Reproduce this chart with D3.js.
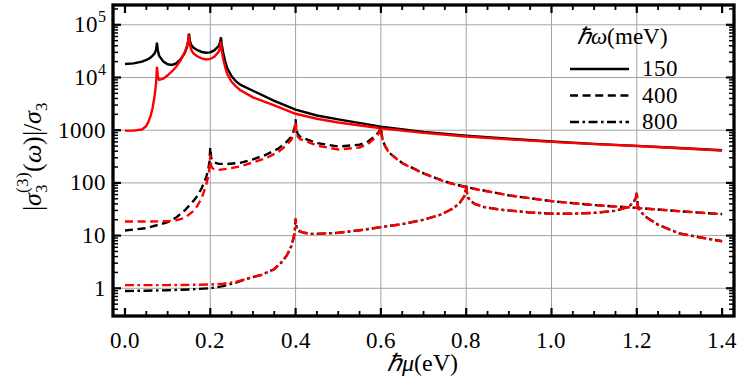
<!DOCTYPE html>
<html>
<head>
<meta charset="utf-8">
<script src="https://cdn.jsdelivr.net/npm/d3@7"></script>
<style>
@font-face { font-family: "PlotSerif"; src: local("Liberation Serif"), local("LiberationSerif-Regular"), local("Tinos"); font-style: normal; }
@font-face { font-family: "PlotSerif"; src: local("Liberation Serif Italic"), local("LiberationSerif-Italic"), local("Tinos Italic"); font-style: italic; }
</style>
</head>
<body style="margin:0">
<script>
// hbar*omega = 150 meV
var mu150 = [0, 0.02, 0.04, 0.05, 0.055, 0.06, 0.065, 0.07, 0.073, 0.075, 0.077, 0.08, 0.09, 0.1, 0.11, 0.12, 0.13, 0.14, 0.145, 0.148, 0.15, 0.152, 0.155, 0.16, 0.17, 0.18, 0.19, 0.2, 0.21, 0.22, 0.223, 0.225, 0.227, 0.23, 0.235, 0.24, 0.25, 0.26, 0.27, 0.3, 0.35, 0.4, 0.45, 0.5, 0.6, 0.7, 0.8, 0.9, 1.0, 1.1, 1.2, 1.3, 1.4];
var black150 = [18000, 18500, 20000, 21500, 22500, 24000, 26000, 29000, 34000, 46000, 33000, 26000, 20000, 17800, 17300, 18500, 22000, 29000, 37000, 48000, 68000, 50000, 42000, 37000, 33000, 30500, 29500, 30000, 33000, 40000, 47000, 58000, 42000, 30000, 20000, 15000, 10500, 8500, 7300, 5600, 3600, 2450, 1900, 1600, 1170, 930, 790, 690, 610, 550, 505, 460, 415];
var red150 = [980, 980, 1030, 1200, 1450, 1850, 2700, 4800, 8000, 16000, 10500, 9000, 9500, 11000, 13000, 16000, 21000, 30000, 39000, 49000, 64000, 42000, 34000, 29000, 25000, 23000, 22000, 22500, 25000, 31000, 37000, 48000, 32000, 23000, 15500, 11500, 8300, 6800, 5800, 4200, 2950, 2050, 1650, 1400, 1090, 890, 760, 670, 600, 545, 500, 455, 410];

// hbar*omega = 400 meV
var mu400 = [0, 0.05, 0.1, 0.12, 0.14, 0.16, 0.17, 0.18, 0.19, 0.195, 0.198, 0.2, 0.202, 0.205, 0.21, 0.22, 0.24, 0.27, 0.3, 0.33, 0.36, 0.38, 0.39, 0.395, 0.398, 0.4, 0.402, 0.405, 0.41, 0.42, 0.45, 0.5, 0.55, 0.57, 0.585, 0.595, 0.598, 0.6, 0.602, 0.605, 0.61, 0.62, 0.65, 0.7, 0.75, 0.8, 0.9, 1.0, 1.1, 1.2, 1.3, 1.4];
var black400 = [12.5, 13.8, 18, 22, 30, 45, 57, 80, 126, 175, 250, 470, 300, 265, 245, 230, 228, 240, 280, 340, 450, 610, 760, 950, 1150, 1600, 1000, 850, 760, 700, 570, 490, 530, 610, 760, 920, 1020, 1170, 800, 620, 500, 370, 238, 152, 106, 83, 58, 45, 38, 33.5, 29, 25.5];
var red400 = [18.5, 18.5, 18.7, 19.5, 21.6, 29, 37, 52, 90, 130, 190, 340, 210, 190, 180, 177, 185, 205, 245, 293, 390, 530, 660, 830, 1020, 1470, 900, 760, 680, 640, 510, 430, 470, 550, 700, 860, 960, 1100, 780, 610, 490, 365, 236, 151, 105, 82, 58, 45, 38, 33.5, 29, 25.5];

// hbar*omega = 800 meV
var mu800 = [0, 0.05, 0.1, 0.15, 0.2, 0.23, 0.26, 0.29, 0.32, 0.35, 0.37, 0.38, 0.39, 0.395, 0.398, 0.4, 0.402, 0.405, 0.41, 0.42, 0.435, 0.45, 0.5, 0.55, 0.6, 0.65, 0.7, 0.74, 0.77, 0.785, 0.795, 0.798, 0.8, 0.802, 0.805, 0.81, 0.82, 0.84, 0.88, 0.95, 1.0, 1.05, 1.1, 1.15, 1.18, 1.19, 1.195, 1.198, 1.2, 1.202, 1.205, 1.21, 1.22, 1.25, 1.3, 1.35, 1.4];
var black800 = [0.89, 0.9, 0.92, 0.95, 1.0, 1.1, 1.28, 1.55, 1.8, 2.3, 3.3, 4.3, 6.3, 8.8, 11.5, 21, 15, 13, 12, 11.3, 10.8, 10.8, 11.3, 12.6, 14.5, 16.5, 20, 25, 33, 42, 55, 65, 89, 65, 52, 46, 40, 35, 31, 27.5, 26, 26, 27, 29.5, 35, 41, 47, 53, 66, 38, 32, 28, 23, 16, 11, 9.2, 7.8];
var red800 = [1.15, 1.15, 1.15, 1.16, 1.18, 1.22, 1.32, 1.55, 1.8, 2.3, 3.3, 4.3, 6.3, 8.8, 11.5, 21, 15, 13, 12, 11.3, 10.8, 10.8, 11.3, 12.6, 14.5, 16.5, 20, 25, 33, 42, 55, 65, 89, 65, 52, 46, 40, 35, 31, 27.5, 26, 26, 27, 29.5, 35, 41, 47, 53, 66, 38, 32, 28, 23, 16, 11, 9.2, 7.8];

var xTickLabels = ["0.0", "0.2", "0.4", "0.6", "0.8", "1.0", "1.2", "1.4"];
var yTickValues = [1, 10, 100, 1000, 1e4, 1e5];
var legendLabels = ["150", "400", "800"];

var fontStack = "PlotSerif, 'Liberation Serif', Tinos, 'Times New Roman'";

var width = 750;
var height = 385;
var svg = d3.select("body")
  .append("svg")
  .attr("width", width)
  .attr("height", height);

var plotLeft = 113, plotRight = 734, plotTop = 5, plotBottom = 316;

var x = d3.scaleLinear().domain([-0.0281, 1.4279]).range([plotLeft, plotRight]);
var y = d3.scaleLog().domain([0.298, 2.375e5]).range([plotBottom, plotTop]);

var gray = "#a3a3a3";

// helper: text in the serif face
function label(xp, yp, size) {
  return svg.append("text")
    .attr("x", xp).attr("y", yp)
    .style("font-family", fontStack)
    .style("font-size", size + "px");
}

// grid lines
svg.selectAll(".vgrid")
  .data([0.2, 0.4, 0.6, 0.8, 1.0, 1.2])
  .enter().append("line")
  .attr("x1", d => x(d)).attr("x2", d => x(d))
  .attr("y1", plotTop).attr("y2", plotBottom)
  .style("stroke", gray).style("stroke-width", 1);

svg.selectAll(".hgrid")
  .data(yTickValues)
  .enter().append("line")
  .attr("x1", plotLeft).attr("x2", plotRight)
  .attr("y1", d => y(d)).attr("y2", d => y(d))
  .style("stroke", gray).style("stroke-width", 1);

// legend (drawn under the curves, no background)
var legendStyles = ["none", "8,4.6", "9,3.5,2.5,3.5"];
label(622, 44, 23)
  .attr("text-anchor", "middle")
  .html('<tspan font-style="italic">ℏω</tspan>(meV)');

legendLabels.forEach(function (lab, i) {
  var ly = [69, 95.5, 122][i];
  svg.append("line")
    .attr("x1", 570).attr("x2", 629)
    .attr("y1", ly).attr("y2", ly)
    .style("stroke", "#000").style("stroke-width", 2.4)
    .style("stroke-dasharray", legendStyles[i]);
  label(642, ly + 7, 23).text(lab);
});

// curves
svg.append("clipPath").attr("id", "clip")
  .append("rect")
  .attr("x", plotLeft).attr("y", plotTop)
  .attr("width", plotRight - plotLeft).attr("height", plotBottom - plotTop);

var line = d3.line()
  .x(d => x(d[0]))
  .y(d => y(d[1]));

var series = [
  [mu150, black150, "#000", "none"],
  [mu150, red150, "#ff0000", "none"],
  [mu400, black400, "#000", "8,4.6"],
  [mu400, red400, "#ff0000", "8,4.6"],
  [mu800, black800, "#000", "9,3.5,2.5,3.5"],
  [mu800, red800, "#ff0000", "9,3.5,2.5,3.5"]
];

series.forEach(function (s) {
  svg.append("path")
    .attr("clip-path", "url(#clip)")
    .attr("d", line(d3.zip(s[0], s[1])))
    .style("fill", "none")
    .style("stroke", s[2])
    .style("stroke-width", 2.4)
    .style("stroke-dasharray", s[3]);
});

// ticks on all four sides, pointing inward
var xMajor = d3.range(0, 8).map(i => i * 0.2);
var xMinor = d3.range(1, 28).map(i => i * 0.05).filter(v => Math.abs(v / 0.2 - Math.round(v / 0.2)) > 1e-6);
var yMinor = [];
d3.range(-1, 6).forEach(function (k) {
  d3.range(2, 10).forEach(function (m) {
    var v = m * Math.pow(10, k);
    if (v > 0.298 && v < 2.375e5) yMinor.push(v);
  });
});

var ticks = svg.append("g").style("stroke", "#000");
function xTicks(vals, len, w) {
  vals.forEach(function (v) {
    ticks.append("line").attr("x1", x(v)).attr("x2", x(v))
      .attr("y1", plotBottom).attr("y2", plotBottom - len).style("stroke-width", w);
    ticks.append("line").attr("x1", x(v)).attr("x2", x(v))
      .attr("y1", plotTop).attr("y2", plotTop + len).style("stroke-width", w);
  });
}
function yTicks(vals, len, w) {
  vals.forEach(function (v) {
    ticks.append("line").attr("y1", y(v)).attr("y2", y(v))
      .attr("x1", plotLeft).attr("x2", plotLeft + len).style("stroke-width", w);
    ticks.append("line").attr("y1", y(v)).attr("y2", y(v))
      .attr("x1", plotRight).attr("x2", plotRight - len).style("stroke-width", w);
  });
}
xTicks(xMajor, 8, 2.2);
xTicks(xMinor, 5, 1.8);
yTicks(yTickValues, 8, 2.2);
yTicks(yMinor, 5, 1.5);

// frame
svg.append("rect")
  .attr("x", plotLeft).attr("y", plotTop)
  .attr("width", plotRight - plotLeft).attr("height", plotBottom - plotTop)
  .style("fill", "none").style("stroke", "#000").style("stroke-width", 3.3);

// tick labels
xMajor.forEach(function (d, i) {
  label(x(d), 348, 23).attr("text-anchor", "middle").text(xTickLabels[i]);
});

yTickValues.forEach(function (d) {
  var t = label(106, y(d) + 7.5, 23).attr("text-anchor", "end");
  if (d >= 1e4) {
    t.text("10");
    t.append("tspan").attr("dy", -10).style("font-size", "16px").text(Math.round(Math.log10(d)));
  } else {
    t.text(String(d));
  }
});

// axis titles
label(422, 371, 24)
  .attr("text-anchor", "middle")
  .html('<tspan font-style="italic">ℏμ</tspan>(eV)');

label(0, 0, 26)
  .attr("transform", "translate(41,156) rotate(-90)")
  .attr("text-anchor", "middle")
  .html('|<tspan font-style="italic">σ</tspan><tspan dy="6" font-size="17px">3</tspan>' +
        '<tspan dx="-9" dy="-19" font-size="17px">(3)</tspan>' +
        '<tspan dy="13">(</tspan><tspan font-style="italic">ω</tspan>)|/<tspan font-style="italic">σ</tspan>' +
        '<tspan dy="6" font-size="17px">3</tspan>');
</script>
</body>
</html>
